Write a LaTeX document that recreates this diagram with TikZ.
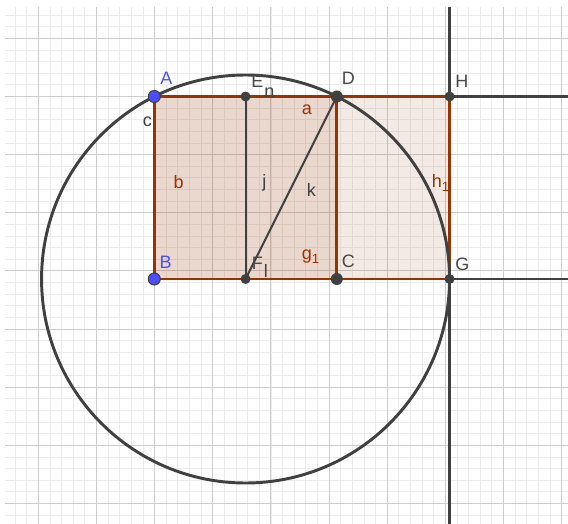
\documentclass[tikz,border=0pt]{standalone}
\usepackage{fontspec}
\setmainfont{Liberation Sans}
\pgfdeclarelayer{gridlayer}
\pgfdeclarelayer{linelayer}
\pgfsetlayers{gridlayer,linelayer,main}
\definecolor{ggbrown}{RGB}{153,51,0}
\definecolor{ggblue}{RGB}{77,77,255}
\definecolor{ggdark}{RGB}{64,64,64}
\definecolor{gglabel}{RGB}{72,72,72}
\definecolor{gridminor}{RGB}{236,236,236}
\definecolor{gridmajor}{RGB}{205,205,205}
\tikzset{
  bluept/.style={circle,draw=ggdark,line width=0.8pt,fill=ggblue,minimum size=9pt,inner sep=0pt},
  bigpt/.style={circle,fill=ggdark,minimum size=9pt,inner sep=0pt},
  smallpt/.style={circle,fill=ggdark,minimum size=7.5pt,inner sep=0pt},
  edge/.style={draw=ggbrown,line width=2pt},
  seg/.style={draw=ggdark,line width=1.5pt},
  thickline/.style={draw=ggdark,line width=2.2pt},
  polyfill/.style={fill=ggbrown,fill opacity=0.1},
  lbl/.style={anchor=base west,inner sep=0pt,font=\fontsize{13.5}{15}\selectfont},
  ptlbl/.style={lbl,text=gglabel},
  bluelbl/.style={lbl,text=ggblue},
  brownlbl/.style={lbl,text=ggbrown},
  darklbl/.style={lbl,text=ggdark},
  minorline/.style={draw=gridminor,line width=0.6pt},
  majorline/.style={draw=gridmajor,line width=0.75pt}
}
\newcommand{\subone}{\raisebox{-0.45ex}{\fontsize{10}{12}\selectfont 1}}
\begin{document}
\begin{tikzpicture}[x=0.75pt,y=-0.75pt]
\useasboundingbox (0,0) rectangle (568,524);
% grid
\begin{pgfonlayer}{gridlayer}
\fill[white] (0,0) rectangle (568,524);
\begin{scope}
\clip (5,7) rectangle (568,524);
\foreach \i in {-2,...,45} {\draw[minorline] ({38.3+11.63*\i},7) -- ({38.3+11.63*\i},524);}
\foreach \i in {-2,...,41} {\draw[minorline] (5,{38.3+11.63*\i}) -- (568,{38.3+11.63*\i});}
\foreach \k in {0,...,9} {\draw[majorline] ({38.3+58.15*\k},7) -- ({38.3+58.15*\k},524);}
\foreach \k in {0,...,8} {\draw[majorline] (5,{38.3+58.15*\k}) -- (568,{38.3+58.15*\k});}
\end{scope}
\end{pgfonlayer}
% points
\node[bluept] (A) at (154.3,96.5) {};
\node[bluept] (B) at (154.3,279.0) {};
\node[bigpt] (D) at (336.8,96.5) {};
\node[bigpt] (C) at (336.8,279.0) {};
\node[smallpt] (E) at (245.55,96.5) {};
\node[smallpt] (F) at (245.55,279.0) {};
\node[smallpt] (H) at (449.6,96.5) {};
\node[smallpt] (G) at (449.6,279.0) {};
\coordinate (Hr) at (568,96.5);
\coordinate (Gr) at (568,279.0);
\coordinate (Vt) at (449.6,7);
\coordinate (Vb) at (449.6,524);
% fills and lines
\begin{pgfonlayer}{gridlayer}
\fill[polyfill] (A.center) -- (H.center) -- (G.center) -- (B.center) -- cycle;
\fill[polyfill] (A.center) -- (D.center) -- (C.center) -- (B.center) -- cycle;
\end{pgfonlayer}
\begin{pgfonlayer}{linelayer}
\draw[thickline] (Vt) -- (Vb);
\draw[thickline] (H.center) -- (Hr);
\draw[thickline] (G.center) -- (Gr);
\draw[seg] (E.center) -- (F.center);
\draw[seg] (F.center) -- (D.center);
\draw[edge] (A.center) -- (D.center) -- (H.center);
\draw[edge] (B.center) -- (C.center) -- (G.center);
\draw[edge] (A.center) -- (B.center);
\draw[edge] (D.center) -- (C.center);
\draw[edge] (H.center) -- (G.center);
\draw[ggdark,line width=2.2pt] (F.center) circle [radius=153pt];
\end{pgfonlayer}
% labels
\node[bluelbl] (lA) at (160,85) {A};
\node[bluelbl] (lB) at (159.3,268.3) {B};
\node[ptlbl] (lE) at (251,88) {E};
\node[darklbl] (ln) at (264,97.7) {n};
\node[ptlbl] (lD) at (341.7,85) {D};
\node[ptlbl] (lH) at (455,87.3) {H};
\node[brownlbl] (la) at (301.5,114.3) {a};
\node[darklbl] (lc) at (142.7,126.7) {c};
\node[brownlbl] (lb) at (173.3,188.3) {b};
\node[darklbl] (lj) at (262,188) {j};
\node[darklbl] (lk) at (306.7,196.7) {k};
\node[brownlbl] (lh) at (431.7,187.3) {h\subone};
\node[ptlbl] (lF) at (251.7,269.3) {F};
\node[darklbl] (ll) at (263.5,277.5) {l};
\node[brownlbl] (lg) at (301.7,259) {g\subone};
\node[ptlbl] (lC) at (341.7,267.3) {C};
\node[ptlbl] (lG) at (455,270.7) {G};
\end{tikzpicture}
\end{document}
